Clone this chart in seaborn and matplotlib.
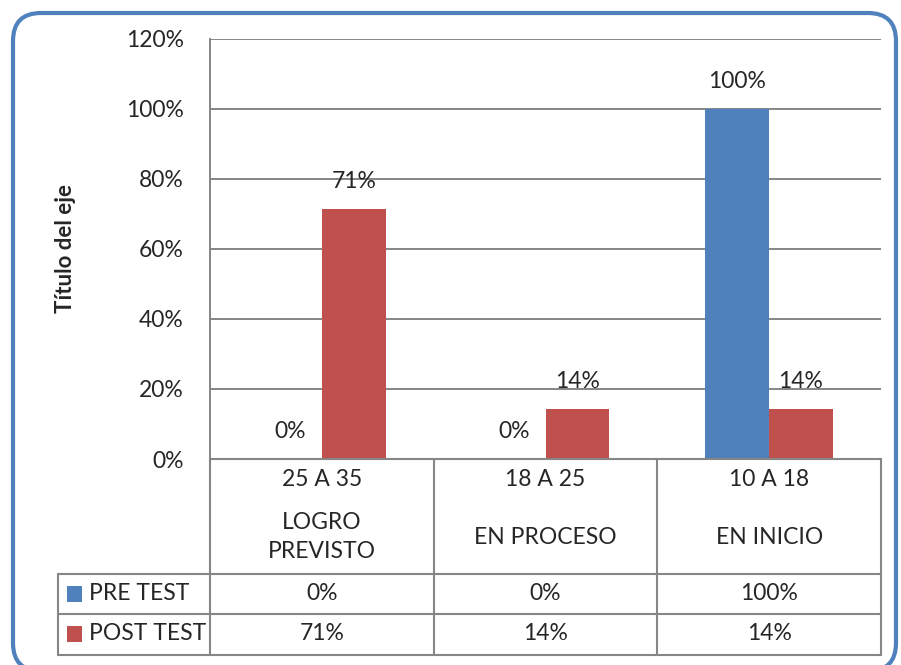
import pandas as pd
import seaborn as sns
import matplotlib.pyplot as plt
from matplotlib.patches import FancyBboxPatch, Rectangle
from matplotlib.transforms import blended_transform_factory

# datos
rangos = ["25 A 35", "18 A 25", "10 A 18"]
niveles = ["LOGRO\nPREVISTO", "EN PROCESO", "EN INICIO"]
series = ["PRE TEST", "POST TEST"]
pre_test = [0, 0, 100]
post_test = [71.4, 14.3, 14.3]
colores = ["#4F81BD", "#C0504D"]
gris = "#868686"
fs = 16.5

df = pd.DataFrame({
    "rango": rangos * 2,
    "serie": [series[0]] * 3 + [series[1]] * 3,
    "valor": pre_test + post_test,
})

sns.set_theme(style="white")
plt.rcParams["font.family"] = ["Lato", "DejaVu Sans"]

W, H = 901, 665
fig = plt.figure(figsize=(W / 100, H / 100), dpi=100)


def fx(px):
    return px / W


def fy(py):
    return 1 - py / H


# marco redondeado azul
marco = FancyBboxPatch((0.13, -0.06), 8.83, 6.58,
                       boxstyle="round,pad=0,rounding_size=0.28",
                       transform=fig.dpi_scale_trans, fill=False,
                       edgecolor="#4F81BD", linewidth=3, zorder=0)
fig.patches.append(marco)

ax = fig.add_axes([fx(210), fy(459), fx(881) - fx(210), fy(38.5) - fy(459)])
sns.barplot(data=df, x="rango", y="valor", hue="serie", palette=colores,
            width=0.57, saturation=1, linewidth=0, ax=ax, legend=False,
            zorder=3)

ax.set_ylim(0, 120)
ax.set_xlim(-0.5, 2.5)
ax.set_yticks(range(0, 121, 20))
ax.set_yticklabels([f"{v}%" for v in range(0, 121, 20)], fontsize=fs)
ax.tick_params(axis="y", length=0, pad=19)
ax.set_xticks([])
ax.set_xlabel("")
ax.set_ylabel("Título del eje", fontsize=16, fontweight="bold", labelpad=36)
ax.yaxis.grid(True, color=gris, linewidth=1.4)
ax.set_axisbelow(True)
for s in ["top", "right", "bottom"]:
    ax.spines[s].set_visible(False)
ax.spines["left"].set_color(gris)
ax.spines["left"].set_linewidth(1.4)

for cont in ax.containers:
    ax.bar_label(cont, fmt="{:.0f}%", padding=12, fontsize=fs)

# tabla de datos
tr = blended_transform_factory(ax.transData, fig.transFigure)
lw = 1.5
filas_y = [574, 614, 655]
for py in filas_y:
    fig.add_artist(plt.Line2D([fx(58), fx(881)], [fy(py), fy(py)],
                              color=gris, linewidth=lw))
fig.add_artist(plt.Line2D([fx(210), fx(881)], [fy(459), fy(459)],
                          color=gris, linewidth=lw))
fig.add_artist(plt.Line2D([fx(58), fx(58)], [fy(574), fy(655)],
                          color=gris, linewidth=lw))
for xb in [-0.5, 0.5, 1.5, 2.5]:
    fig.add_artist(plt.Line2D([xb, xb], [fy(459), fy(655)], transform=tr,
                              color=gris, linewidth=lw))

for i, (r, n) in enumerate(zip(rangos, niveles)):
    fig.text(i, fy(479), r, transform=tr, ha="center", va="center", fontsize=fs)
    fig.text(i, fy(537), n, transform=tr, ha="center", va="center",
             fontsize=fs, linespacing=1.45)
    fig.text(i, fy(594), f"{pre_test[i]:.0f}%", transform=tr,
             ha="center", va="center", fontsize=fs)
    fig.text(i, fy(634), f"{post_test[i]:.0f}%", transform=tr,
             ha="center", va="center", fontsize=fs)

for k, (nombre, col) in enumerate(zip(series, colores)):
    yc = [594, 634][k]
    fig.patches.append(Rectangle((fx(67), fy(yc + 8)), fx(15), fy(yc - 8) - fy(yc + 8),
                                 transform=fig.transFigure, facecolor=col,
                                 edgecolor="none"))
    fig.text(fx(89), fy(yc), nombre, ha="left", va="center", fontsize=fs)

fig.savefig("out.png", dpi=100)
